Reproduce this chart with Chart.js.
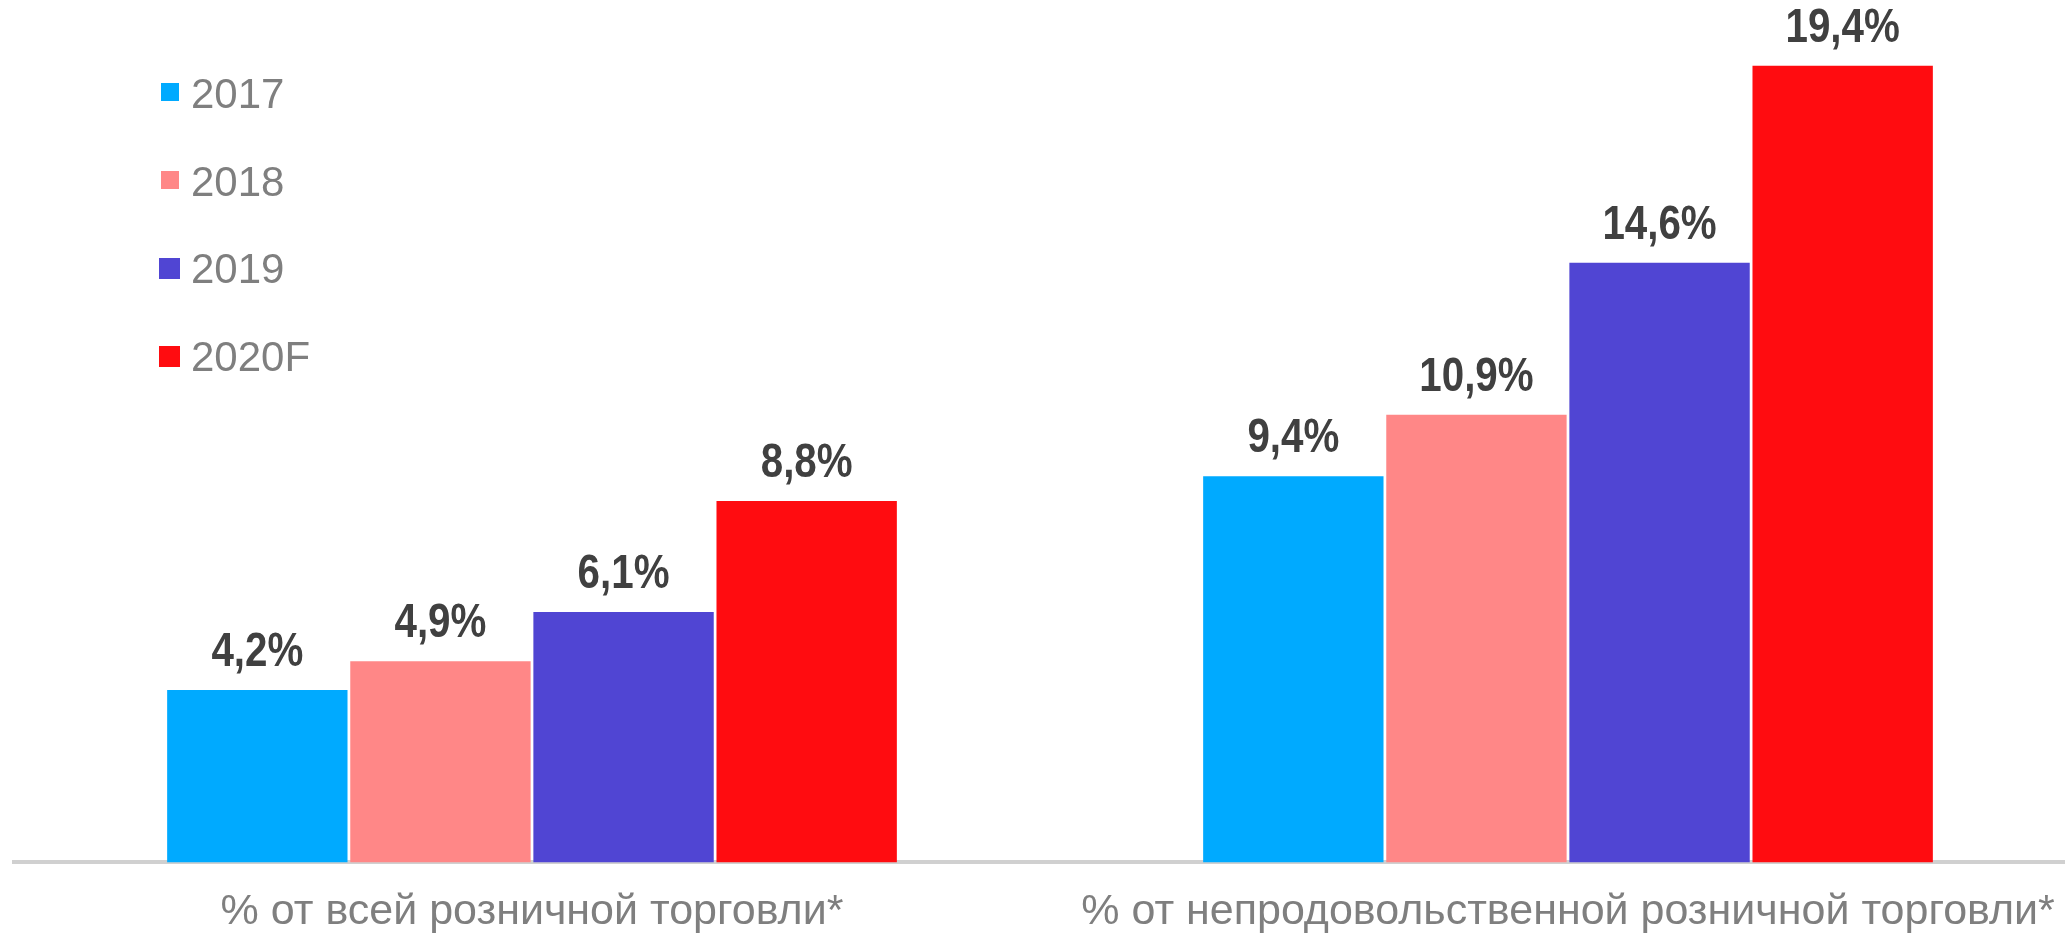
<!DOCTYPE html>
<html>
<head>
<meta charset="utf-8">
<script src="https://cdn.jsdelivr.net/npm/chart.js@4/dist/chart.umd.min.js"></script>
<style>
  html, body { margin: 0; padding: 0; background: #fff; overflow: hidden; }
  #wrap { position: relative; width: 2086px; height: 962px; }
  #legend { position: absolute; left: 159px; top: 70px; font-family: "Liberation Sans", Arial, sans-serif; font-size: 42px; color: #7f7f7f; }
  #legend .item { height: 87.5px; display: flex; align-items: flex-start; }
  #legend .box { display: inline-block; margin-top: 13px; margin-right: 11px; }
</style>
</head>
<body>
<div id="wrap">
  <canvas id="chartShare"></canvas>
  <div id="legend"></div>
</div>
<script>
const categories = ['% от всей розничной торговли*', '% от непродовольственной розничной торговли*'];
const years = ['2017', '2018', '2019', '2020F'];
const values2017 = [4.2, 9.4];
const values2018 = [4.9, 10.9];
const values2019 = [6.1, 14.6];
const values2020 = [8.8, 19.4];
const colors = ['#00aaff', '#ff8787', '#5045d3', '#ff0c10'];

const seriesValues = [values2017, values2018, values2019, values2020];

// bold condensed value labels above each bar
const valueLabels = {
  id: 'valueLabels',
  afterDatasetsDraw(chart) {
    const ctx = chart.ctx;
    chart.data.datasets.forEach((ds, i) => {
      chart.getDatasetMeta(i).data.forEach((bar, j) => {
        const txt = ds.data[j].toFixed(1).replace('.', ',') + '%';
        ctx.save();
        ctx.font = 'bold 48px "Liberation Sans", Arial, sans-serif';
        ctx.fillStyle = '#404040';
        ctx.textAlign = 'center';
        ctx.textBaseline = 'alphabetic';
        ctx.translate(bar.x, bar.y - 24);
        ctx.scale(0.84, 1);
        ctx.fillText(txt, 0, 0);
        ctx.restore();
      });
    });
  }
};

const shareChart = new Chart(
  document.getElementById('chartShare'),
  {
    type: 'bar',
    data: {
      labels: categories,
      datasets: years.map((y, i) => ({
        label: y,
        data: seriesValues[i],
        backgroundColor: colors[i],
        barPercentage: 0.985,
        categoryPercentage: 0.707
      }))
    },
    options: {
      responsive: true,
      maintainAspectRatio: false,
      animation: false,
      layout: { padding: { left: 14, right: 0, top: 0, bottom: 0 } },
      plugins: {
        legend: { display: false },
        tooltip: { enabled: false }
      },
      scales: {
        x: {
          grid: { display: false, drawTicks: false },
          border: { display: true, color: '#d0d0d0', width: 4 },
          ticks: {
            padding: 24,
            color: '#7f7f7f',
            maxRotation: 0,
            autoSkip: false,
            font: { family: '"Liberation Sans", Arial, sans-serif', size: 43 }
          }
        },
        y: {
          display: false,
          min: 0,
          max: 21
        }
      }
    },
    plugins: [valueLabels]
  });

const legendBox = document.getElementById('legend');
years.forEach((y, i) => {
  const item = document.createElement('div');
  item.className = 'item';
  const sz = i < 2 ? 18 : 21;
  item.innerHTML = '<span class="box" style="width:' + sz + 'px;height:' + sz + 'px;background:' + colors[i] + ';margin-left:' + (i < 2 ? 2 : 0) + 'px;margin-right:' + (i < 2 ? 12 : 11) + 'px"></span><span>' + y + '</span>';
  legendBox.appendChild(item);
});
</script>
</body>
</html>
